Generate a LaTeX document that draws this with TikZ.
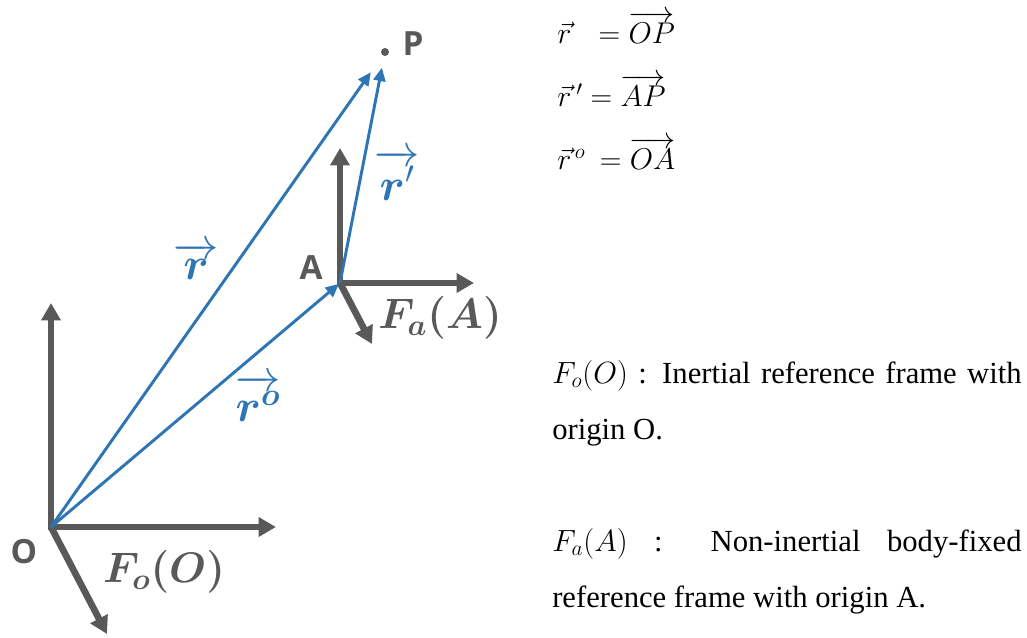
\RequirePackage{fix-cm}
\documentclass[tikz,border=0pt]{standalone}
\usepackage{amsmath,amssymb}
\usepackage{fontspec}
\setmainfont{Liberation Serif}
\newfontfamily\labelfont{Open Sans}
\definecolor{axisgray}{HTML}{595959}
\definecolor{vecblue}{HTML}{2E75B6}
\usetikzlibrary{arrows.meta}

\begin{document}
\begin{tikzpicture}[
  x=0.75pt, y=-0.75pt,
  axis/.style={draw=axisgray, line width=5pt, >={Triangle[length=13pt, width=14pt]}},
  vec/.style={draw=vecblue, line width=2.2pt, -{Triangle[length=10pt, width=9pt]}},
  ptlabel/.style={text=axisgray, font=\labelfont\bfseries\fontsize{25}{28}\selectfont, inner sep=0pt},
  framelabel/.style={text=axisgray, font=\fontsize{32}{35}\selectfont, inner sep=0pt},
  veclabel/.style={text=vecblue, font=\fontsize{34}{38}\selectfont, inner sep=0pt},
  eq/.style={anchor=base west, font=\fontsize{22.5}{26}\selectfont, inner sep=0pt},
  desc/.style={anchor=base west, text width=352pt, align=justify, font=\fontsize{23}{42}\selectfont, inner sep=0pt},
]
\useasboundingbox (0,0) rectangle (1027,637);

\coordinate (O) at (51,527);
\coordinate (Ox) at (276,527);
\coordinate (Oy) at (51,303);
\coordinate (Oz) at (107,634);
\coordinate (A) at (340,283);
\coordinate (Ax) at (474,283);
\coordinate (Ay) at (340,148);
\coordinate (Az) at (372,344);
\node[circle, fill=axisgray, inner sep=0pt, minimum size=6pt] (P) at (385,52) {};

\draw[axis, <->, line join=miter] (Oy) -- (O) -- (Ox);
\draw[axis, ->] (O) -- (Oz);
\draw[axis, <->, line join=miter] (Ay) -- (A) -- (Ax);
\draw[axis, ->] (A) -- (Az);

\draw[vec, shorten >=18.5pt] (O) -- (P.center);
\draw[vec, shorten >=12pt] (A) -- (P.center);
\draw[vec, shorten >=1pt] (O) -- (A);

\node[ptlabel] (Olab) at (24,552) {O};
\node[ptlabel] (Alab) at (311,268) {A};
\node[ptlabel] (Plab) at (413,44) {P};
\node[framelabel] (FO) at (164,572) {$\boldsymbol{F_o(O)}$};
\node[framelabel] (FA) at (440,318) {$\boldsymbol{F_a(A)}$};

\node[veclabel] (rlab) at (196,261) {$\overrightarrow{\boldsymbol{r}}$};
\node[veclabel] (rplab) at (397,175) {$\overrightarrow{\boldsymbol{r}'}$};
\node[veclabel] (rolab) at (258,398) {$\overrightarrow{\boldsymbol{r}^{\boldsymbol{o}}}$};

\node[eq] (eqOP) at (557,43) {\makebox[31pt][l]{$\vec{r}$}$=\overrightarrow{OP}$};
\node[eq] (eqAP) at (557,106) {\makebox[25pt][l]{$\vec{r}\,'$}$=\overrightarrow{AP}$};
\node[eq] (eqOA) at (557,169) {\makebox[32pt][l]{$\vec{r}^{\,o}$}$=\overrightarrow{OA}$};

\node[desc] (descO) at (552,383) {$F_o(O)$ : Inertial reference frame with\linebreak origin O.};
\node[desc] (descA) at (552,551) {$F_a(A)$ : Non-inertial body-fixed\linebreak reference frame with origin A.};
\end{tikzpicture}
\end{document}
